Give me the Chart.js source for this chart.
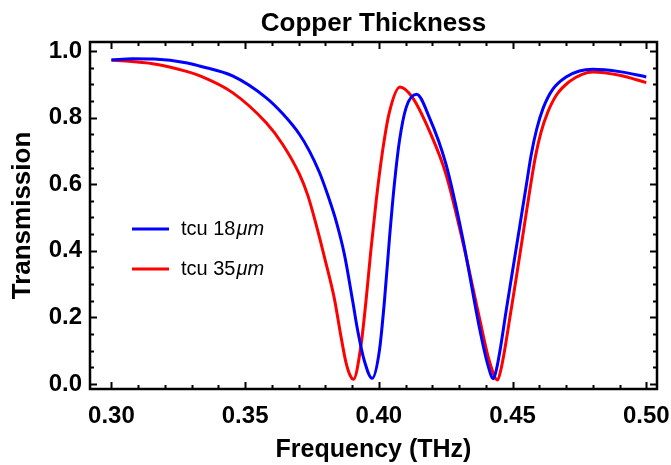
<!DOCTYPE html>
<html>
<head>
<meta charset="utf-8">
<script src="https://cdn.jsdelivr.net/npm/chart.js@4.4.1/dist/chart.umd.min.js"></script>
<style>
  html, body { margin: 0; padding: 0; background: #fff; }
  #wrap { width: 671px; height: 465px; }
</style>
</head>
<body>
<div id="wrap"><canvas id="copper-chart" width="671" height="465"></canvas></div>
<script>
// values
const chartTitle = 'Copper Thickness';
const xTitle = 'Frequency (THz)';
const yTitle = 'Transmission';
const seriesLabels = ['tcu 18', 'tcu 35'];
const seriesUnit = 'μm';
const seriesColors = ['#0000ff', '#ff0000'];

const xTicks = [0.30, 0.35, 0.40, 0.45, 0.50];
const yTicks = [0.0, 0.2, 0.4, 0.6, 0.8, 1.0];

const freqBlue = [0.300, 0.308, 0.316, 0.3284, 0.3329, 0.3453, 0.3578, 0.3640, 0.3703, 0.3740, 0.3778,
    0.3810, 0.3840, 0.3871, 0.3902, 0.3921, 0.3946, 0.3975, 0.4002, 0.4021, 0.4040, 0.4058, 0.4077,
    0.4102, 0.4141, 0.4189, 0.4251, 0.4313, 0.4376, 0.4407, 0.4428, 0.4440, 0.4455, 0.4475, 0.4500,
    0.4525, 0.4550, 0.4570, 0.4590, 0.4615, 0.4650, 0.4700, 0.4750, 0.4800, 0.4900, 0.5000];
const transBlue = [0.973, 0.977, 0.976, 0.964, 0.955, 0.925, 0.860, 0.812, 0.750, 0.700, 0.635,
    0.565, 0.490, 0.390, 0.250, 0.160, 0.069, 0.017, 0.100, 0.250, 0.440, 0.600, 0.730,
    0.830, 0.870, 0.800, 0.660, 0.440, 0.169, 0.059, 0.016, 0.045, 0.110, 0.215, 0.340,
    0.465, 0.590, 0.690, 0.765, 0.830, 0.885, 0.922, 0.940, 0.945, 0.938, 0.922];

const freqRed = [0.300, 0.316, 0.3284, 0.3329, 0.3453, 0.3578, 0.3640, 0.3703, 0.3735, 0.3765, 0.3800,
    0.3834, 0.3859, 0.3877, 0.3893, 0.3905, 0.3933, 0.3952, 0.3970, 0.3990, 0.4014, 0.4039, 0.4079,
    0.4126, 0.4189, 0.4251, 0.4313, 0.4376, 0.4413, 0.4444, 0.4456, 0.4471, 0.4491, 0.4516, 0.4541,
    0.4566, 0.4586, 0.4606, 0.4631, 0.4666, 0.4712, 0.4760, 0.4800, 0.4900, 0.5000];
const transRed = [0.973, 0.961, 0.938, 0.926, 0.875, 0.785, 0.720, 0.630, 0.565, 0.480, 0.370,
    0.255, 0.140, 0.065, 0.025, 0.014, 0.115, 0.250, 0.400, 0.550, 0.700, 0.815, 0.892,
    0.860, 0.760, 0.630, 0.430, 0.199, 0.069, 0.012, 0.042, 0.105, 0.205, 0.330, 0.460,
    0.590, 0.685, 0.755, 0.815, 0.870, 0.908, 0.930, 0.937, 0.927, 0.905];

const FONT = "'Liberation Sans', Arial, sans-serif";
Chart.defaults.font.family = FONT;
Chart.defaults.color = '#000';

const toPoints = (xs, ys) => xs.map((x, i) => ({ x: x, y: ys[i] }));

// frame with inward ticks on all four sides, title and legend
const framePlugin = {
    id: 'frame',
    afterDraw(chart) {
        const { ctx, chartArea: a, scales: { x, y } } = chart;
        ctx.save();
        ctx.strokeStyle = '#000';
        ctx.lineWidth = 2;
        ctx.beginPath();
        for (let i = 0; i <= 20; i++) {
            const px = Math.round(x.getPixelForValue(0.30 + i * 0.01)) + 0.5;
            const len = i % 5 === 0 ? 7 : 4;
            ctx.moveTo(px, a.bottom); ctx.lineTo(px, a.bottom - len);
            ctx.moveTo(px, a.top); ctx.lineTo(px, a.top + len);
        }
        for (let i = 0; i <= 20; i++) {
            const py = Math.round(y.getPixelForValue(i * 0.05)) + 0.5;
            const len = i % 4 === 0 ? 7 : 4;
            ctx.moveTo(a.left, py); ctx.lineTo(a.left + len, py);
            ctx.moveTo(a.right, py); ctx.lineTo(a.right - len, py);
        }
        ctx.stroke();
        ctx.lineWidth = 2.5;
        ctx.strokeRect(a.left, a.top, a.right - a.left, a.bottom - a.top);

        // title
        ctx.fillStyle = '#000';
        ctx.font = 'bold 26px ' + FONT;
        ctx.textAlign = 'center';
        ctx.textBaseline = 'alphabetic';
        ctx.fillText(chartTitle, (a.left + a.right) / 2, 31);

        // legend
        ctx.textAlign = 'left';
        ctx.textBaseline = 'middle';
        chart.data.datasets.forEach((ds, i) => {
            const ly = 229 + i * 40;
            ctx.strokeStyle = ds.borderColor;
            ctx.lineWidth = 3;
            ctx.beginPath();
            ctx.moveTo(132, ly); ctx.lineTo(169, ly);
            ctx.stroke();
            ctx.font = '20px ' + FONT;
            ctx.fillText(seriesLabels[i], 181, ly);
            const w = ctx.measureText(seriesLabels[i]).width;
            ctx.font = 'italic 20px ' + FONT;
            ctx.fillText(seriesUnit, 181 + w + 1, ly);
        });
        ctx.restore();
    }
};

const ctx = document.getElementById('copper-chart').getContext('2d');
const copperChart = new Chart(ctx, {
    type: 'line',
    data: {
        datasets: [
            {
                label: seriesLabels[0] + seriesUnit,
                data: toPoints(freqBlue, transBlue),
                borderColor: seriesColors[0],
                borderWidth: 3,
                pointRadius: 0,
                cubicInterpolationMode: 'monotone',
                fill: false,
            },
            {
                label: seriesLabels[1] + seriesUnit,
                data: toPoints(freqRed, transRed),
                borderColor: seriesColors[1],
                borderWidth: 3,
                pointRadius: 0,
                cubicInterpolationMode: 'monotone',
                fill: false,
            },
        ],
    },
    options: {
        responsive: false,
        animation: false,
        layout: { padding: { left: 0, top: 42, right: 14, bottom: 0 } },
        plugins: {
            legend: { display: false },
            title: { display: false },
            tooltip: { enabled: false },
        },
        scales: {
            x: {
                type: 'linear',
                min: 0.292,
                max: 0.504,
                grid: { display: false, drawTicks: false },
                border: { display: false },
                afterBuildTicks: s => { s.ticks = xTicks.map(v => ({ value: v })); },
                afterFit: s => { s.height = 76; s.paddingLeft = 0; s.paddingRight = 0; },
                ticks: {
                    autoSkip: false,
                    maxRotation: 0,
                    padding: 13,
                    font: { size: 24, weight: 'bold' },
                    callback: v => Number(v).toFixed(2),
                },
                title: {
                    display: true,
                    text: xTitle,
                    font: { size: 25, weight: 'bold', lineHeight: 1 },
                    padding: { top: 0, bottom: 2 },
                },
            },
            y: {
                min: -0.015,
                max: 1.027,
                grid: { display: false, drawTicks: false },
                border: { display: false },
                afterBuildTicks: s => { s.ticks = yTicks.map(v => ({ value: v })); },
                afterFit: s => { s.width = 90; s.paddingTop = 0; s.paddingBottom = 0; },
                ticks: {
                    autoSkip: false,
                    padding: 8,
                    font: { size: 24, weight: 'bold' },
                    callback: v => Number(v).toFixed(1),
                },
                title: {
                    display: true,
                    text: yTitle,
                    font: { size: 26, weight: 'bold', lineHeight: 1 },
                    padding: { top: 10, bottom: 0 },
                },
            },
        },
    },
    plugins: [framePlugin],
});
</script>
</body>
</html>
